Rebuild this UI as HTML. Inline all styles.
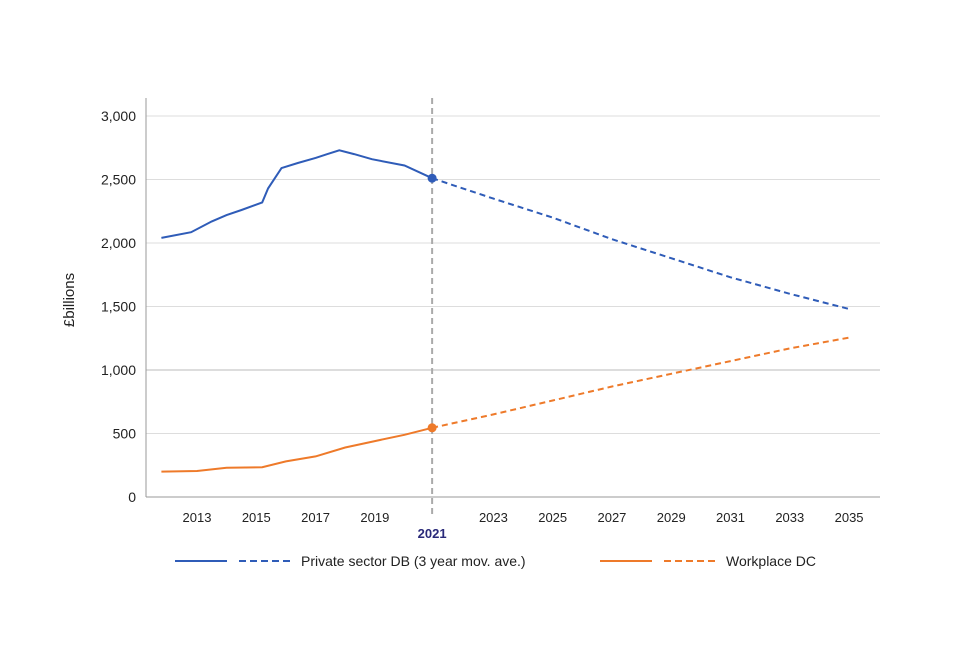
<!DOCTYPE html>
<html><head><meta charset="utf-8"><style>
body{margin:0;background:#fff;font-family:"Liberation Sans",sans-serif}
svg text{font-family:"Liberation Sans",sans-serif}
</style></head><body>
<svg width="960" height="640" id="chart">
<g id="grid"></g><g id="marks"></g><g id="legend"></g>
</svg>
<script>
const dbYears=[2011.8,2012.8,2013.5,2014,2014.5,2015.2,2015.4,2015.85,2016.4,2017,2017.4,2017.8,2018.3,2018.9,2020,2021];
const dbValues=[2040,2085,2170,2220,2260,2320,2430,2590,2630,2670,2700,2730,2700,2660,2610,2510];
const dbProjYears=[2021,2023,2025,2027,2029,2031,2033,2035];
const dbProjValues=[2510,2350,2200,2030,1880,1730,1600,1480];
const dcYears=[2011.8,2013,2014,2015.2,2016,2017,2018,2019,2020,2021];
const dcValues=[200,205,230,235,280,320,390,440,490,545];
const dcProjYears=[2021,2023,2025,2027,2029,2031,2033,2035];
const dcProjValues=[545,650,760,870,970,1070,1170,1255];
const yTicks=[0,500,1000,1500,2000,2500,3000];
const yTickLabels=["0","500","1,000","1,500","2,000","2,500","3,000"];
const xTicks=[2013,2015,2017,2019,2021,2023,2025,2027,2029,2031,2033,2035];

const NS="http://www.w3.org/2000/svg";
const x=v=>197+(v-2013)*29.64-(v>=2020.5&&v<=2021.5?2*(1-Math.abs(v-2021)*2):0);
const y=v=>497-v*(381/3000);
function mk(tag,attrs,parent,text){const e=document.createElementNS(NS,tag);for(const k in attrs)e.setAttribute(k,attrs[k]);if(text!==undefined)e.textContent=text;document.getElementById(parent).appendChild(e);return e;}
yTicks.forEach((t,i)=>{
 const g=mk('line',{x1:146,x2:880,y1:y(t),y2:y(t),stroke:t===1000?'#bbb':'#ddd','stroke-width':1},'grid');
 
 
 const l=mk('text',{x:136,y:y(t)+5,'text-anchor':'end','font-size':14,fill:'#222'},'grid',yTickLabels[i]);
 
 
});
xTicks.forEach(t=>{
 const l=mk('text',{x:x(t),y:t===2021?538:522,'text-anchor':'middle','font-size':13,fill:t===2021?'#2a2a7a':'#222','font-weight':t===2021?'bold':'normal'},'grid',String(t));
 
 
});
let a=mk('line',{x1:146,x2:146,y1:98,y2:497,stroke:'#999'},'grid');


a=mk('line',{x1:146,x2:880,y1:497,y2:497,stroke:'#999'},'grid');


a=mk('text',{x:0,y:0,transform:'translate(74,300) rotate(-90)','text-anchor':'middle','font-size':15,fill:'#222'},'grid','£billions');


a=mk('line',{x1:x(2021),x2:x(2021),y1:98,y2:515,stroke:'#aaa','stroke-width':2,'stroke-dasharray':'6,4'},'grid');


function line(xs,vs,color,dash,name){
 const d=xs.map((v,i)=>(i?'L':'M')+x(v).toFixed(1)+','+y(vs[i]).toFixed(1)).join(' ');
 const p=mk('path',{d:d,fill:'none',stroke:color,'stroke-width':2,'stroke-dasharray':dash||'none'},'marks');
 
 
}
line(dbYears,dbValues,'#2f5cb8','', 'db-actual-line');
line(dbProjYears,dbProjValues,'#2f5cb8','6,4','db-projection-line');
line(dcYears,dcValues,'#ee7a2a','', 'dc-actual-line');
line(dcProjYears,dcProjValues,'#ee7a2a','6,4','dc-projection-line');
a=mk('circle',{cx:x(2021),cy:y(dbValues[dbValues.length-1]),r:4.5,fill:'#2f5cb8'},'marks');


a=mk('circle',{cx:x(2021),cy:y(dcValues[dcValues.length-1]),r:4.5,fill:'#ee7a2a'},'marks');


function leg(x0,color,label,name){
 let l=mk('line',{x1:x0,x2:x0+52,y1:561,y2:561,stroke:color,'stroke-width':2},'legend');
 
 
 l=mk('line',{x1:x0+64,x2:x0+116,y1:561,y2:561,stroke:color,'stroke-width':2,'stroke-dasharray':'7,4'},'legend');
 
 
 l=mk('text',{x:x0+126,y:566,'font-size':14,fill:'#222'},'legend',label);
 
 
}
leg(175,'#2f5cb8','Private sector DB (3 year mov. ave.)','legend-db');
leg(600,'#ee7a2a','Workplace DC','legend-dc');
</script>
</body></html>
